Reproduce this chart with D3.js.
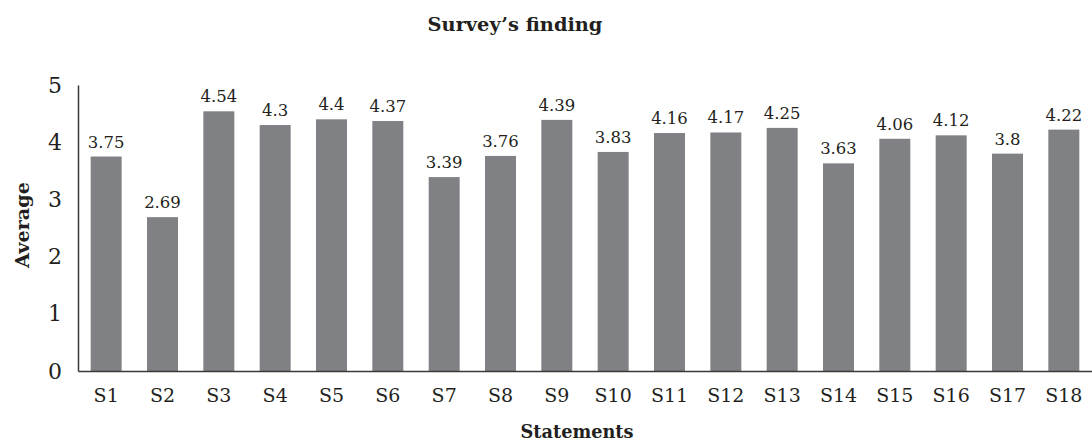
<!DOCTYPE html>
<html><head><meta charset="utf-8">
<script src="https://cdn.jsdelivr.net/npm/d3@7"></script>
<style>body{margin:0;background:#fff}svg{display:block}</style>
</head><body>
<svg id="c" width="1092" height="442"></svg>
<script>
const categories = ["S1","S2","S3","S4","S5","S6","S7","S8","S9","S10","S11","S12","S13","S14","S15","S16","S17","S18"];
const values = [3.75,2.69,4.54,4.3,4.4,4.37,3.39,3.76,4.39,3.83,4.16,4.17,4.25,3.63,4.06,4.12,3.8,4.22];
const valueLabels = ["3.75","2.69","4.54","4.3","4.4","4.37","3.39","3.76","4.39","3.83","4.16","4.17","4.25","3.63","4.06","4.12","3.8","4.22"];
const yTicks = [0,1,2,3,4,5];
const title = "Survey\u2019s finding";
const xTitle = "Statements";
const yTitle = "Average";

const font = "'DejaVu Serif', 'Liberation Serif', serif";
const ink = "#231f20";
const svg = d3.select("#c");
const x = d3.scaleBand().domain(categories).range([78,1092]).paddingInner(0.45).paddingOuter(0.225);
const y = d3.scaleLinear().domain([0,5]).range([371,85]);

svg.selectAll("rect.bar").data(values).join("rect")
  .attr("class","bar")
  .attr("x",(d,i)=>x(categories[i]))
  .attr("width",x.bandwidth())
  .attr("y",d=>y(d))
  .attr("height",d=>y(0)-y(d))
  .attr("fill","#808184");

svg.selectAll("text.val").data(values).join("text")
  .attr("class","val")
  .attr("x",(d,i)=>x(categories[i])+x.bandwidth()/2)
  .attr("y",d=>y(d)-9)
  .attr("text-anchor","middle")
  .attr("font-family",font).attr("font-size",16.5).attr("fill",ink)
  .text((d,i)=>valueLabels[i]);

const yAxis = svg.append("g").attr("transform","translate(78,0)")
  .call(d3.axisLeft(y).tickValues(yTicks).tickSize(0).tickPadding(16).tickFormat(d3.format("d")));
yAxis.select(".domain").attr("stroke","#3a3a3a").attr("stroke-width",1.5);
yAxis.selectAll("text").attr("font-family",font).attr("font-size",22).attr("fill",ink);

const xAxis = svg.append("g").attr("transform","translate(0,371)")
  .call(d3.axisBottom(x).tickSize(0).tickPadding(18));
xAxis.select(".domain").attr("stroke","#3a3a3a").attr("stroke-width",1.5);
xAxis.selectAll("text").attr("font-family",font).attr("font-size",19).attr("fill",ink);

function fit(sel, target){
  const w = sel.node().getComputedTextLength();
  const fs = parseFloat(sel.attr("font-size"));
  sel.attr("font-size", fs*target/w);
}
const t1 = svg.append("text").attr("x",515).attr("y",31).attr("text-anchor","middle")
  .attr("font-family",font).attr("font-size",17).attr("font-weight","bold").attr("fill",ink).text(title);
fit(t1,175);
const t2 = svg.append("text").attr("x",577).attr("y",438).attr("text-anchor","middle")
  .attr("font-family",font).attr("font-size",17).attr("font-weight","bold").attr("fill",ink).text(xTitle);
fit(t2,113);
const t3 = svg.append("text").attr("transform","translate(29,225) rotate(-90)").attr("text-anchor","middle")
  .attr("font-family",font).attr("font-size",17).attr("font-weight","bold").attr("fill",ink).text(yTitle);
fit(t3,86);
</script>
</body></html>
